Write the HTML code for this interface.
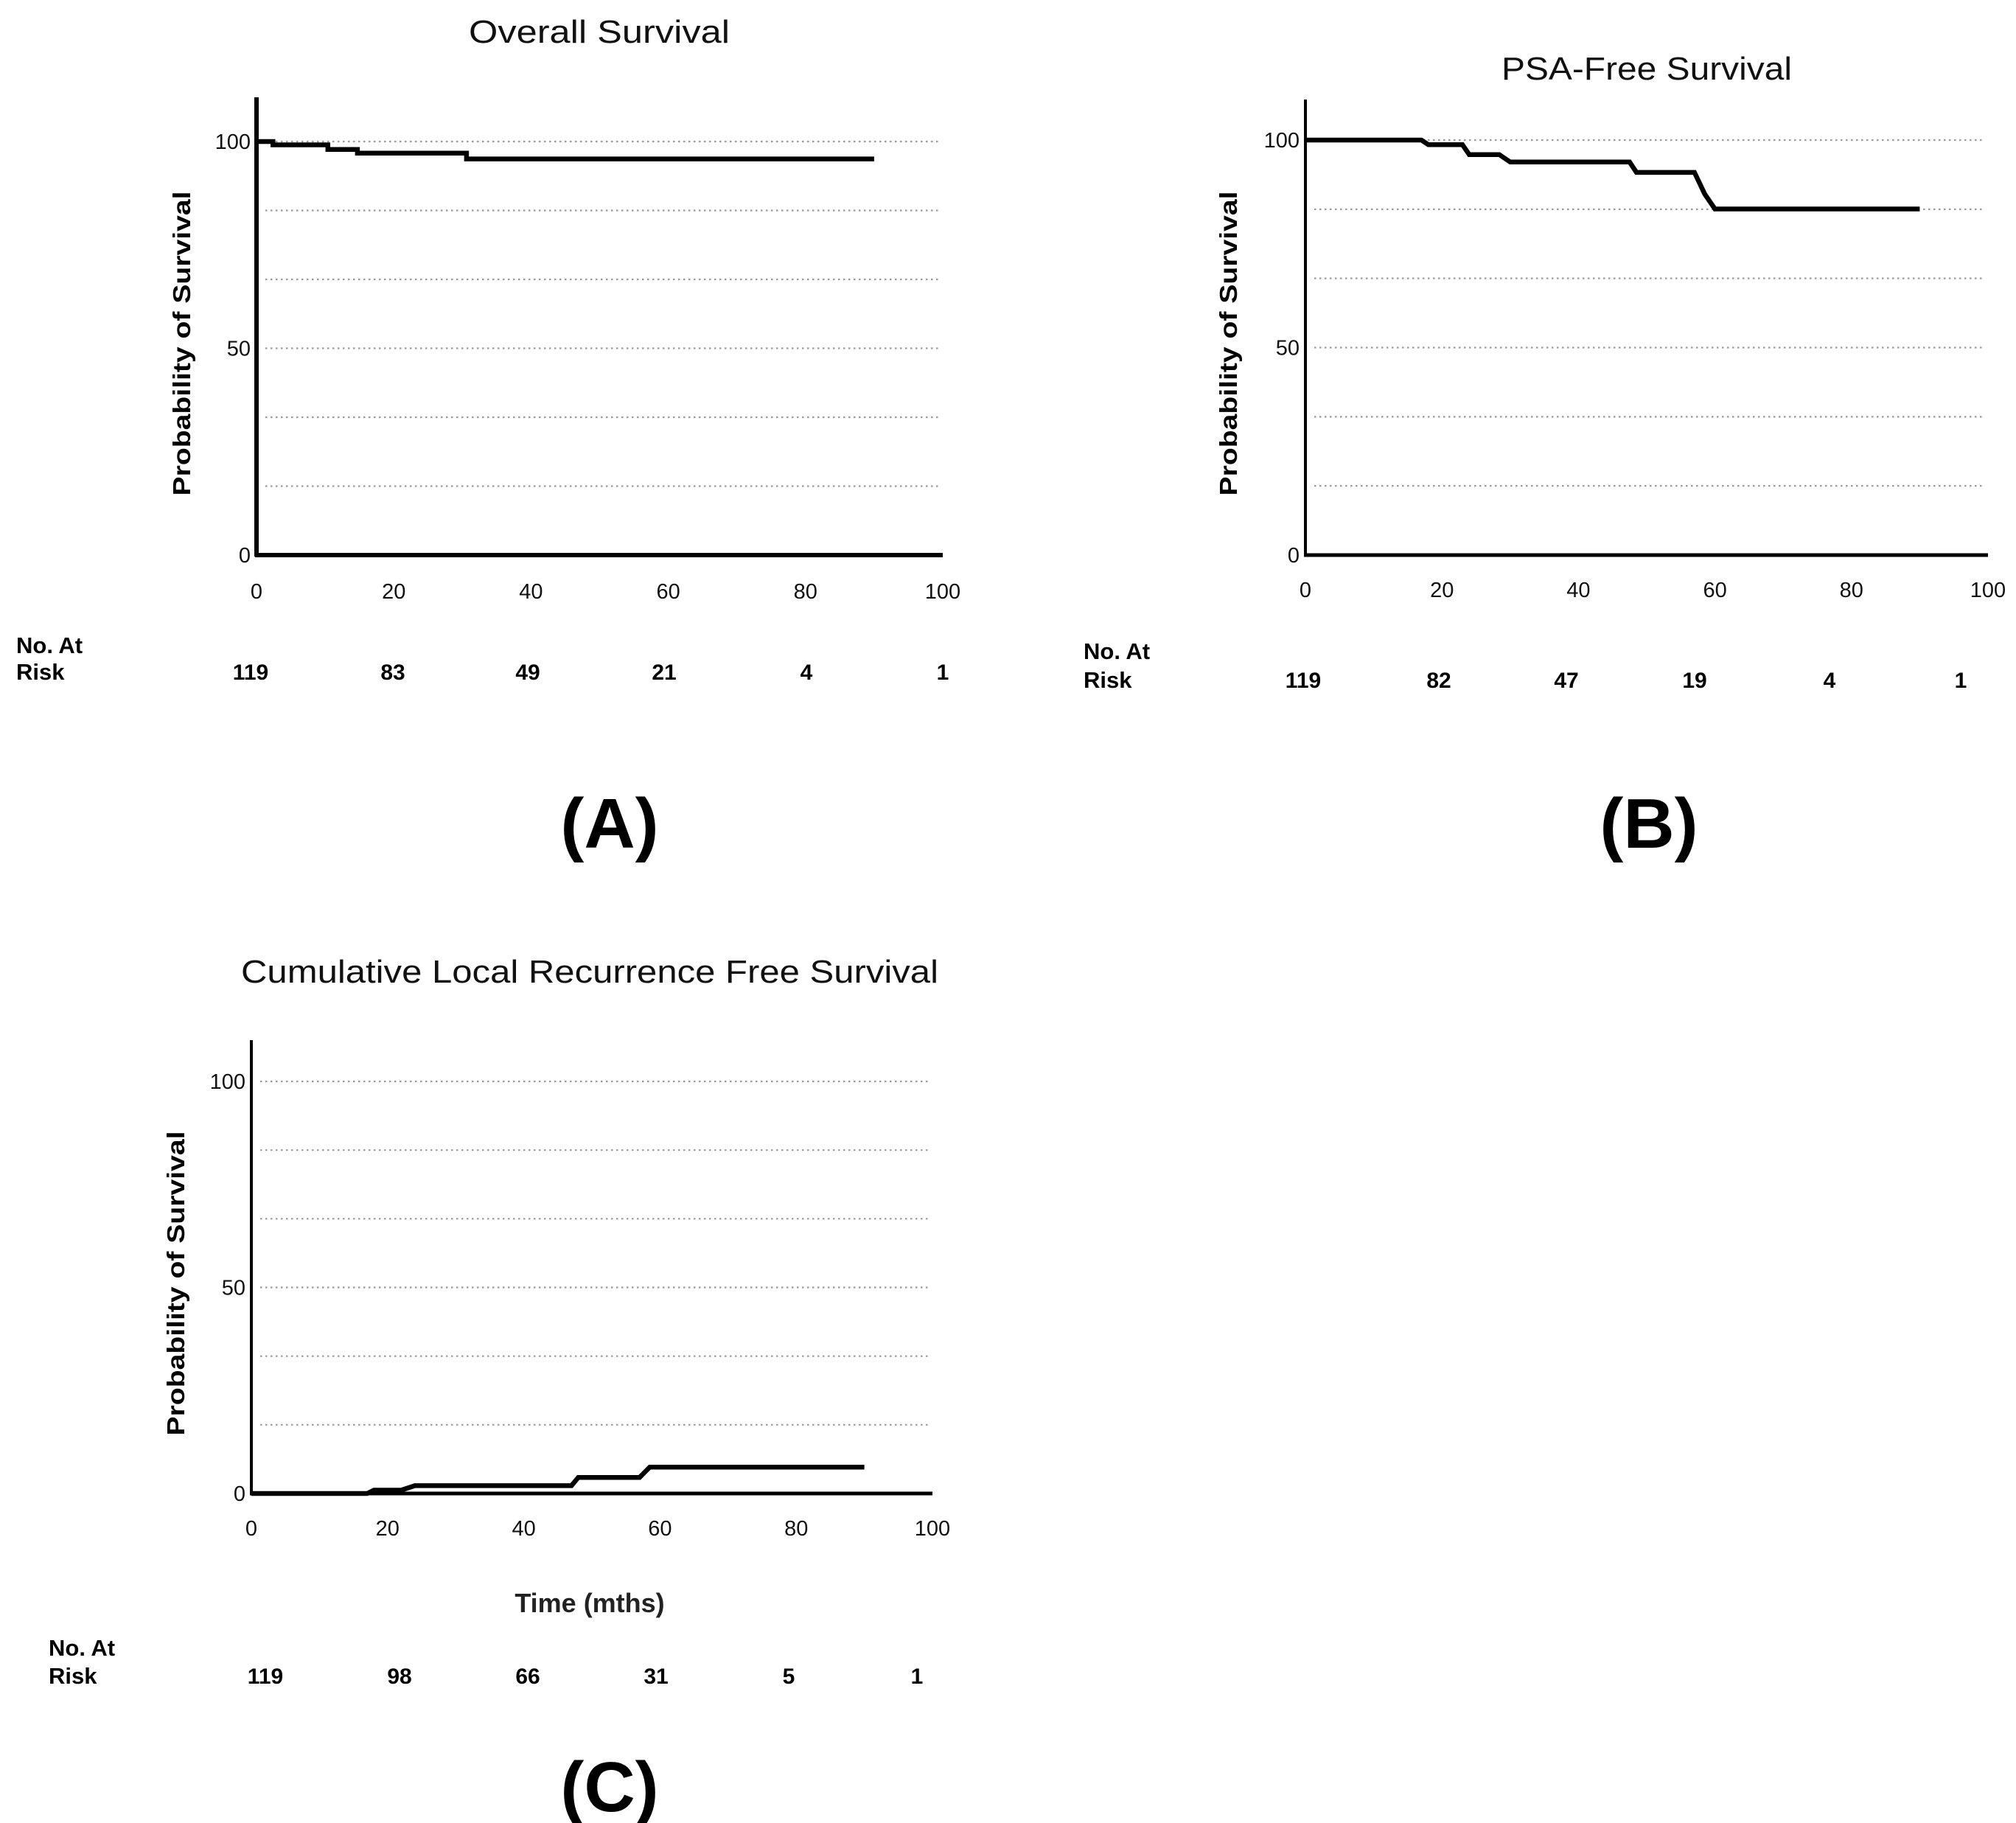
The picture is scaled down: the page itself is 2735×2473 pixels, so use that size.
<!DOCTYPE html>
<html><head><meta charset="utf-8"><style>
html,body{margin:0;padding:0;background:#fff;}
svg{display:block;font-family:"Liberation Sans",sans-serif;}
</style></head><body>
<svg id="fig" width="2735" height="2473" viewBox="0 0 2735 2473" xmlns="http://www.w3.org/2000/svg"></svg>
<script>
// Panel A data
const timesA = [0, 2.4, 2.4, 10.4, 10.4, 14.7, 14.7, 30.6, 30.6, 90];
const valuesA = [100, 100, 99.2, 99.2, 98.1, 98.1, 97.2, 97.2, 95.8, 95.8];
const riskA = ["119", "83", "49", "21", "4", "1"];
// Panel B data
const timesB = [0, 17, 18, 23, 24, 28.4, 30, 47.5, 48.5, 57, 58.5, 60, 90];
const valuesB = [100, 100, 98.9, 98.9, 96.5, 96.5, 94.7, 94.7, 92.2, 92.2, 87, 83.4, 83.4];
const riskB = ["119", "82", "47", "19", "4", "1"];
// Panel C data
const timesC = [0, 17, 18, 22, 24, 47, 48, 57, 58.5, 90];
const valuesC = [0, 0, 0.8, 0.8, 1.9, 1.9, 3.9, 3.9, 6.4, 6.4];
const riskC = ["119", "98", "66", "31", "5", "1"];
// Axis ticks
const xTicks = [0, 20, 40, 60, 80, 100];
const yTicks = [0, 50, 100];
const gridVals = [16.67, 33.33, 50, 66.67, 83.33, 100];

const NS = "http://www.w3.org/2000/svg";
const svg = document.getElementById('fig');
function mk(tag, attrs, parent, text) {
  const e = document.createElementNS(NS, tag);
  for (const k in attrs) e.setAttribute(k, attrs[k]);
  if (text !== undefined) e.textContent = text;
  (parent || svg).appendChild(e);
  return e;
}

function panel(cfg) {
  const g = mk('g', {});
  
  
  const sx = v => cfg.x0 + (v / 100) * (cfg.x1 - cfg.x0);
  const sy = v => cfg.y0 - (v / 100) * (cfg.y0 - cfg.y1);
  // gridlines
  gridVals.forEach(v => {
    const l = mk('line', {x1: cfg.x0 + 12, x2: cfg.x1 - 4, y1: sy(v), y2: sy(v), stroke: '#9a9a9a', 'stroke-width': 2.2, 'stroke-dasharray': '2.5 4.5'}, g);
    
    
  });
  // axes
  const ya = mk('line', {x1: cfg.x0, x2: cfg.x0, y1: cfg.top, y2: cfg.y0 + 2, stroke: '#000', 'stroke-width': cfg.yw}, g);
  
  
  const xa = mk('line', {x1: cfg.x0 - 2, x2: cfg.x1, y1: cfg.y0, y2: cfg.y0, stroke: '#000', 'stroke-width': cfg.xw}, g);
  
  
  // y tick labels
  yTicks.forEach(v => {
    const t = mk('text', {x: cfg.x0 - 8, y: sy(v) + 10, 'text-anchor': 'end', 'font-size': 29, fill: '#111'}, g, String(v));
    
    
  });
  // x tick labels
  xTicks.forEach(v => {
    const t = mk('text', {x: sx(v), y: cfg.xly, 'text-anchor': 'middle', 'font-size': 29, fill: '#111'}, g, String(v));
    
    
  });
  // curve
  const pts = cfg.times.map((t, i) => sx(t).toFixed(1) + ',' + sy(cfg.values[i]).toFixed(1)).join(' ');
  const c = mk('polyline', {points: pts, fill: 'none', stroke: '#000', 'stroke-width': 6.5, 'stroke-linejoin': 'miter'}, g);
  
  
  // title
  const ti = mk('text', {x: cfg.tx, y: cfg.ty, 'text-anchor': 'middle', 'font-size': 44, fill: '#111', textLength: cfg.tl, lengthAdjust: 'spacingAndGlyphs'}, g, cfg.title);
  
  
  // y title
  const yt = mk('text', {x: 0, y: 0, 'text-anchor': 'middle', 'font-size': 33, 'font-weight': 'bold', fill: '#000', textLength: 413, lengthAdjust: 'spacingAndGlyphs', transform: `translate(${cfg.ytx},${cfg.yty}) rotate(-90)`}, g, 'Probability of Survival');
  
  
  // risk table
  const n1 = mk('text', {x: cfg.rx, y: cfg.ry1, 'font-size': 31, 'font-weight': 'bold', fill: '#000'}, g, 'No. At');
  
  
  const n2 = mk('text', {x: cfg.rx, y: cfg.ry2, 'font-size': 31, 'font-weight': 'bold', fill: '#000'}, g, 'Risk');
  
  
  cfg.risk.forEach((r, i) => {
    const t = mk('text', {x: cfg.riskX[i], y: cfg.ry2, 'text-anchor': 'middle', 'font-size': 30, 'font-weight': 'bold', fill: '#000'}, g, r);
    
    
  });
  // panel letter
  const pl = mk('text', {x: cfg.lx, y: cfg.ly, 'text-anchor': 'middle', 'font-size': 96, 'font-weight': 'bold', fill: '#000'}, g, cfg.letter);
  
  
  if (cfg.xtitle) {
    const xt = mk('text', {x: cfg.xtx, y: cfg.xty, 'text-anchor': 'middle', 'font-size': 36, 'font-weight': 'bold', fill: '#222'}, g, cfg.xtitle);
    
    
  }
}

panel({name: 'panel-a-overall-survival', x0: 348, x1: 1279, y0: 753, y1: 192, top: 132, yw: 6, xw: 6,
  xly: 812, times: timesA, values: valuesA, title: 'Overall  Survival', tx: 813, ty: 58, tl: 354,
  ytx: 258, yty: 466, rx: 22, ry1: 886, ry2: 922, risk: riskA,
  riskX: [340, 533, 716, 901, 1094, 1279], letter: '(A)', lx: 827, ly: 1150});
panel({name: 'panel-b-psa-free-survival', x0: 1771, x1: 2697, y0: 753, y1: 190, top: 135, yw: 4, xw: 5,
  xly: 810, times: timesB, values: valuesB, title: 'PSA-Free Survival', tx: 2234, ty: 108, tl: 394,
  ytx: 1678, yty: 466, rx: 1470, ry1: 894, ry2: 933, risk: riskB,
  riskX: [1768, 1952, 2125, 2299, 2482, 2660], letter: '(B)', lx: 2237, ly: 1150});
panel({name: 'panel-c-local-recurrence-free-survival', x0: 341, x1: 1265, y0: 2026, y1: 1467, top: 1411, yw: 4, xw: 5,
  xly: 2083, times: timesC, values: valuesC, title: 'Cumulative Local Recurrence  Free Survival', tx: 800, ty: 1333, tl: 946,
  ytx: 250, yty: 1741, rx: 66, ry1: 2246, ry2: 2284, risk: riskC,
  riskX: [360, 542, 716, 890, 1070, 1244], letter: '(C)', lx: 827, ly: 2457,
  xtitle: 'Time (mths)', xtx: 800, xty: 2187});
</script>
</body></html>
